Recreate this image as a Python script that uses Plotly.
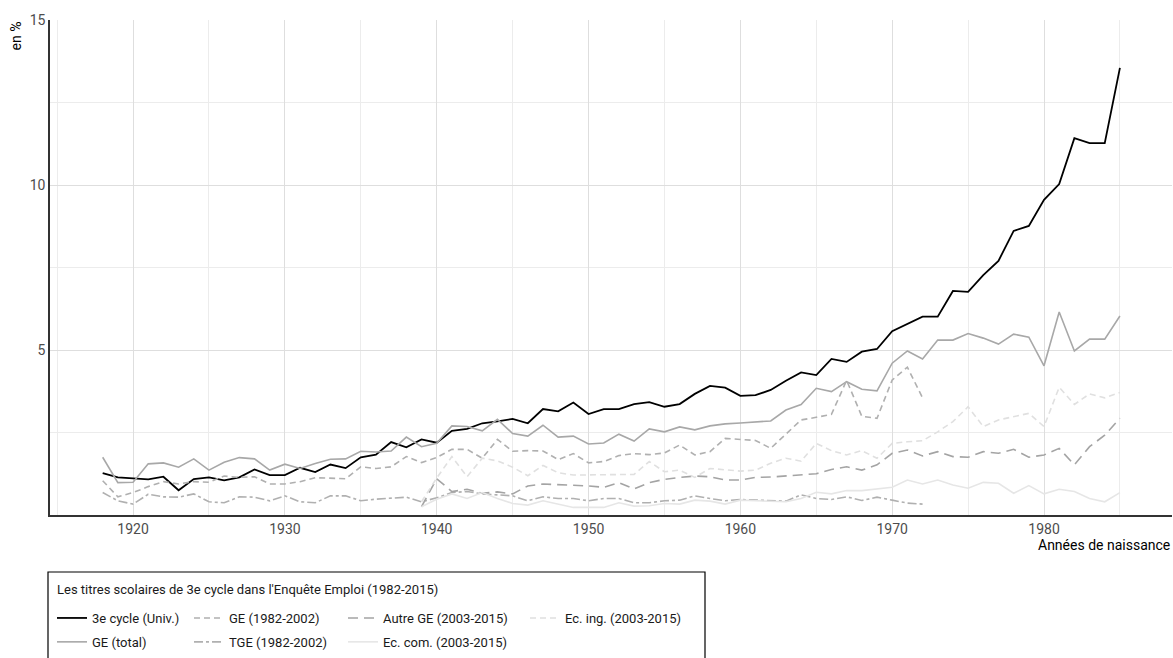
import plotly.graph_objects as go

years = list(range(1918, 1986))
years_8202 = list(range(1918, 1973))
years_0315 = list(range(1939, 1986))

univ = [1.27, 1.14, 1.11, 1.08, 1.16, 0.75, 1.09, 1.14, 1.05, 1.14, 1.38, 1.21, 1.21, 1.43, 1.30, 1.53, 1.42,
        1.75, 1.83, 2.21, 2.05, 2.29, 2.19, 2.55, 2.61, 2.78, 2.84, 2.91, 2.78, 3.21, 3.14, 3.41, 3.06, 3.21,
        3.21, 3.36, 3.42, 3.28, 3.36, 3.67, 3.91, 3.86, 3.61, 3.63, 3.79, 4.07, 4.32, 4.24, 4.73, 4.64, 4.95,
        5.03, 5.57, 5.79, 6.01, 6.01, 6.79, 6.76, 7.27, 7.70, 8.61, 8.76, 9.55, 10.03, 11.42, 11.27, 11.27, 13.55]

ge_total = [1.75, 0.98, 0.99, 1.55, 1.58, 1.45, 1.70, 1.36, 1.60, 1.74, 1.70, 1.36, 1.54, 1.41, 1.56, 1.69, 1.70,
            1.93, 1.91, 1.94, 2.36, 2.07, 2.17, 2.70, 2.68, 2.55, 2.90, 2.47, 2.39, 2.72, 2.36, 2.39, 2.15, 2.18,
            2.45, 2.24, 2.61, 2.52, 2.67, 2.58, 2.70, 2.76, 2.79, 2.82, 2.85, 3.18, 3.35, 3.84, 3.74, 4.04, 3.81,
            3.76, 4.60, 4.97, 4.73, 5.30, 5.30, 5.50, 5.36, 5.18, 5.48, 5.39, 4.52, 6.15, 4.97, 5.33, 5.33, 6.03]

ge_8202 = [1.04, 0.55, 0.68, 0.86, 1.01, 0.94, 1.01, 0.99, 1.18, 1.14, 1.16, 0.94, 0.94, 1.01, 1.13, 1.11, 1.10,
           1.46, 1.41, 1.46, 1.77, 1.59, 1.74, 1.99, 1.99, 1.72, 2.29, 1.93, 1.95, 1.94, 1.68, 1.86, 1.58, 1.62,
           1.80, 1.86, 1.83, 1.88, 2.12, 1.82, 1.92, 2.32, 2.28, 2.26, 2.02, 2.45, 2.88, 2.96, 3.05, 4.08, 2.99,
           2.93, 4.09, 4.48, 3.55]

tge_8202 = [0.68, 0.43, 0.33, 0.63, 0.55, 0.54, 0.64, 0.40, 0.37, 0.55, 0.54, 0.43, 0.58, 0.40, 0.37, 0.58, 0.58,
            0.43, 0.48, 0.50, 0.54, 0.40, 0.52, 0.68, 0.71, 0.64, 0.61, 0.58, 0.43, 0.55, 0.50, 0.50, 0.43, 0.50,
            0.50, 0.37, 0.37, 0.43, 0.45, 0.58, 0.50, 0.43, 0.47, 0.45, 0.42, 0.42, 0.61, 0.50, 0.47, 0.55, 0.44,
            0.54, 0.45, 0.36, 0.33]

autre_ge = [0.25, 1.10, 0.71, 0.78, 0.66, 0.70, 0.64, 0.88, 0.94, 0.91, 0.90, 0.88, 0.84, 0.98, 0.79, 0.98, 1.08,
            1.14, 1.18, 1.16, 1.06, 1.06, 1.14, 1.15, 1.19, 1.23, 1.25, 1.38, 1.46, 1.36, 1.52, 1.87, 1.97, 1.79,
            1.92, 1.77, 1.75, 1.92, 1.87, 1.99, 1.75, 1.82, 2.02, 1.52, 2.07, 2.42, 2.93]

ec_ing = [0.40, 1.12, 1.77, 1.16, 1.72, 1.64, 1.45, 1.19, 1.50, 1.28, 1.21, 1.21, 1.21, 1.23, 1.23, 1.62, 1.31,
          1.36, 1.14, 1.41, 1.36, 1.33, 1.36, 1.57, 1.72, 1.63, 2.17, 1.95, 1.82, 1.95, 1.72, 2.17, 2.22, 2.25,
          2.52, 2.83, 3.28, 2.68, 2.88, 2.98, 3.08, 2.68, 3.87, 3.35, 3.67, 3.55, 3.71]

ec_com = [0.25, 0.48, 0.64, 0.50, 0.68, 0.50, 0.35, 0.30, 0.43, 0.33, 0.23, 0.23, 0.23, 0.37, 0.27, 0.28, 0.35,
          0.33, 0.45, 0.42, 0.33, 0.45, 0.43, 0.40, 0.40, 0.50, 0.69, 0.64, 0.74, 0.74, 0.78, 0.84, 1.06, 0.94,
          1.06, 0.91, 0.81, 0.99, 0.96, 0.66, 0.89, 0.64, 0.78, 0.71, 0.50, 0.40, 0.68]

FONT = "Roboto, Liberation Sans, sans-serif"

series = [
    ("3e cycle (Univ.)", years, univ, "#000000", "solid", 1.8, "legend"),
    ("GE (total)", years, ge_total, "#a8a8a8", "solid", 1.6, "legend"),
    ("GE (1982-2002)", years_8202, ge_8202, "#b0b0b0", "6px,4px", 1.6, "legend2"),
    ("TGE (1982-2002)", years_8202, tge_8202, "#b0b0b0", "dashdot", 1.6, "legend2"),
    ("Autre GE (2003-2015)", years_0315, autre_ge, "#a4a4a4", "10px,6px", 1.6, "legend3"),
    ("Ec. com. (2003-2015)", years_0315, ec_com, "#e6e6e6", "solid", 1.6, "legend3"),
    ("Ec. ing. (2003-2015)", years_0315, ec_ing, "#e0e0e0", "6px,4px", 1.6, "legend4"),
]

fig = go.Figure()
for name, xs, ys, col, dash, w, lg in series:
    fig.add_trace(go.Scatter(x=xs, y=ys, mode="lines", name=name, legend=lg,
                             legendgroup=name,
                             line=dict(color=col, dash=dash, width=w)))

L, R, T, B = 50, 1, 20, 143
W, H = 1173, 658
pw, ph = W - L - R, H - T - B


def px2x(px):
    return (px - L) / pw


def py2y(py):
    return (H - B - py) / ph


leg_common = dict(orientation="v", yanchor="top", xanchor="left",
                  font=dict(family=FONT, size=13, color="#1a1a1a"),
                  bgcolor="rgba(0,0,0,0)", borderwidth=0, tracegroupgap=4,
                  traceorder="grouped", itemwidth=30)

fig.update_layout(
    width=W, height=H,
    margin=dict(l=L, r=R, t=T, b=B, autoexpand=False),
    paper_bgcolor="white", plot_bgcolor="white",
    font=dict(family=FONT, size=13, color="#4d4d4d"),
    legend=dict(x=px2x(52), y=py2y(603), **leg_common),
    legend2=dict(x=px2x(189), y=py2y(603), **leg_common),
    legend3=dict(x=px2x(343), y=py2y(603), **leg_common),
    legend4=dict(x=px2x(525), y=py2y(603), **leg_common),
    xaxis=dict(range=[1914.53, 1988.43], tick0=1920, dtick=10, showgrid=True,
               gridcolor="#dedede", gridwidth=1, zeroline=False,
               showline=True, linecolor="#333333", linewidth=1.5, ticks="",
               tickfont=dict(family=FONT, size=14, color="#4d4d4d"),
               minor=dict(tick0=1915, dtick=10, showgrid=True, gridcolor="#ececec", gridwidth=1)),
    yaxis=dict(range=[0, 15], tickvals=[5, 10, 15], showgrid=True,
               gridcolor="#dedede", gridwidth=1, zeroline=False,
               showline=True, linecolor="#333333", linewidth=1.5, ticks="",
               tickfont=dict(family=FONT, size=14, color="#4d4d4d"),
               minor=dict(tickvals=[2.5, 7.5, 12.5], showgrid=True, gridcolor="#ececec", gridwidth=1)),
    showlegend=True,
)

fig.add_annotation(text="en %", xref="paper", yref="paper", x=px2x(15), y=1.0,
                   xanchor="center", yanchor="top", textangle=-90, showarrow=False,
                   font=dict(family=FONT, size=14, color="#000000"))
fig.add_annotation(text="Années de naissance", xref="paper", yref="paper", x=1.0, y=py2y(545),
                   xanchor="right", yanchor="middle", showarrow=False,
                   font=dict(family=FONT, size=14, color="#000000"))
fig.add_annotation(text="Les titres scolaires de 3e cycle dans l'Enquête Emploi (1982-2015)",
                   xref="paper", yref="paper", x=px2x(55), y=py2y(589),
                   xanchor="left", yanchor="middle", showarrow=False,
                   font=dict(family=FONT, size=13, color="#1a1a1a"))
fig.add_shape(type="rect", xref="paper", yref="paper", x0=px2x(48), x1=px2x(705),
              y0=py2y(572), y1=py2y(700), line=dict(color="#000000", width=1.2),
              fillcolor="rgba(0,0,0,0)", layer="above")

fig.write_html("out.html", config={"displayModeBar": False},
               post_script="document.body.style.margin='0px';document.body.style.padding='0px';")
